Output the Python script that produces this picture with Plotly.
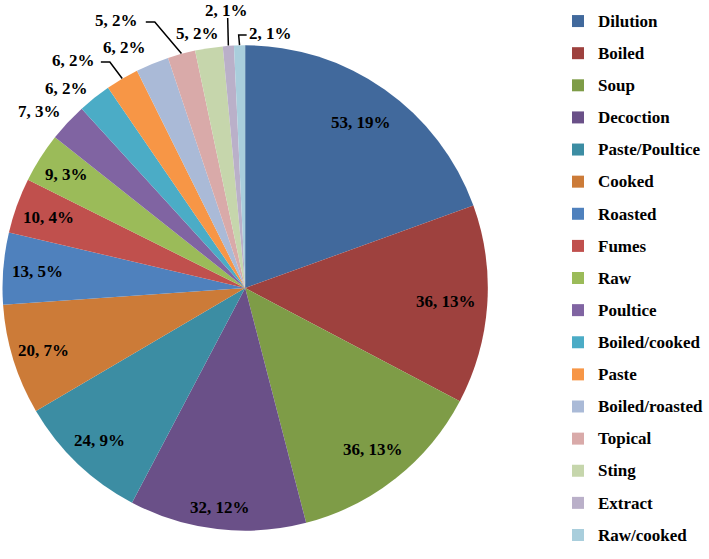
import math
import plotly.graph_objects as go

# Datos del gráfico
methods = ["Dilution", "Boiled", "Soup", "Decoction", "Paste/Poultice", "Cooked",
           "Roasted", "Fumes", "Raw", "Poultice", "Boiled/cooked", "Paste",
           "Boiled/roasted", "Topical", "Sting", "Extract", "Raw/cooked"]
counts = [53, 36, 36, 32, 24, 20, 13, 10, 9, 7, 6, 6, 6, 5, 5, 2, 2]
colors = ["#41699C", "#9E413E", "#7E9C47", "#6A5088", "#3C8DA3", "#CC7B38",
          "#4F81BD", "#C0504D", "#9BBB59", "#8064A2", "#4BACC6", "#F79646",
          "#AABAD7", "#D9AAA9", "#C6D6AC", "#BAB0C9", "#A9CEDC"]

W, H = 709, 559
cx, cy, R = 245.5, 288, 243   # centro y radio del pastel en píxeles
SERIF = "Liberation Serif"


def px(x):
    return x / W


def py(y):
    return 1 - y / H


total = sum(counts)
labels_txt = [f"{v}, {round(v / total * 100)}%" for v in counts]

# ángulo medio de cada porción (desde las 12, sentido horario)
mid = []
acc = 0
for v in counts:
    mid.append(2 * math.pi * (acc + v / 2) / total)
    acc += v

legend_names = [
    f'<span style="font-family:{SERIF};font-size:17px;font-weight:bold;baseline-shift:3px">{m}</span>'
    for m in methods
]

fig = go.Figure(go.Pie(
    labels=legend_names,
    values=counts,
    sort=False,
    direction="clockwise",
    rotation=0,
    textinfo="none",
    hoverinfo="value+percent",
    marker=dict(colors=colors, line=dict(width=0)),
    domain=dict(x=[px(cx - R), px(cx + R)], y=[py(cy + R), py(cy - R)]),
))

# Etiquetas dentro del pastel (factor radial por porción)
inner_r = [0.83, 0.83, 0.85, 0.91, 0.87, 0.87, 0.86, 0.86, 0.87]
annotations = []
for i, f in enumerate(inner_r):
    x = cx + R * f * math.sin(mid[i])
    y = cy - R * f * math.cos(mid[i])
    annotations.append(dict(x=px(x), y=py(y), text=labels_txt[i]))

# Etiquetas exteriores: posición del texto y codo de la línea guía
outer_pos = {
    9: ((40, 112), None),
    10: ((67, 88), None),
    11: ((74, 61), [(110, 62), (101, 62)]),
    12: ((125, 47), None),
    13: ((117, 20), [(155, 22), (146, 22)]),
    14: ((198, 34), None),
    15: ((227, 10), [(228, 18)]),
    16: ((271, 33), [(239, 35), (247, 35)]),
}
shapes = []
for i, ((tx, ty), elbow) in outer_pos.items():
    annotations.append(dict(x=px(tx), y=py(ty), text=labels_txt[i]))
    if elbow is not None:
        ex = cx + R * math.sin(mid[i])
        ey = cy - R * math.cos(mid[i])
        pts = [(ex, ey)] + elbow
        path = "M " + " L ".join(f"{px(a)},{py(b)}" for a, b in pts)
        shapes.append(dict(type="path", xref="paper", yref="paper", path=path,
                           line=dict(color="black", width=1.5)))

for a in annotations:
    a.update(xref="paper", yref="paper", showarrow=False, xanchor="center", yanchor="middle",
             font=dict(family=SERIF, size=17, color="black", weight="bold"))

fig.update_layout(
    width=W, height=H,
    margin=dict(l=0, r=0, t=0, b=0),
    paper_bgcolor="white",
    plot_bgcolor="white",
    annotations=annotations,
    shapes=shapes,
    showlegend=True,
    legend=dict(x=px(559), y=1, xanchor="left", yanchor="top",
                font=dict(family=SERIF, size=22.4, color="black", weight="bold"),
                bgcolor="rgba(0,0,0,0)"),
)

# quita el margen por defecto del <body> para que la figura empiece en (0, 0)
fig.write_html("out.html", config={"displayModeBar": False},
               post_script="document.body.style.margin='0';")
